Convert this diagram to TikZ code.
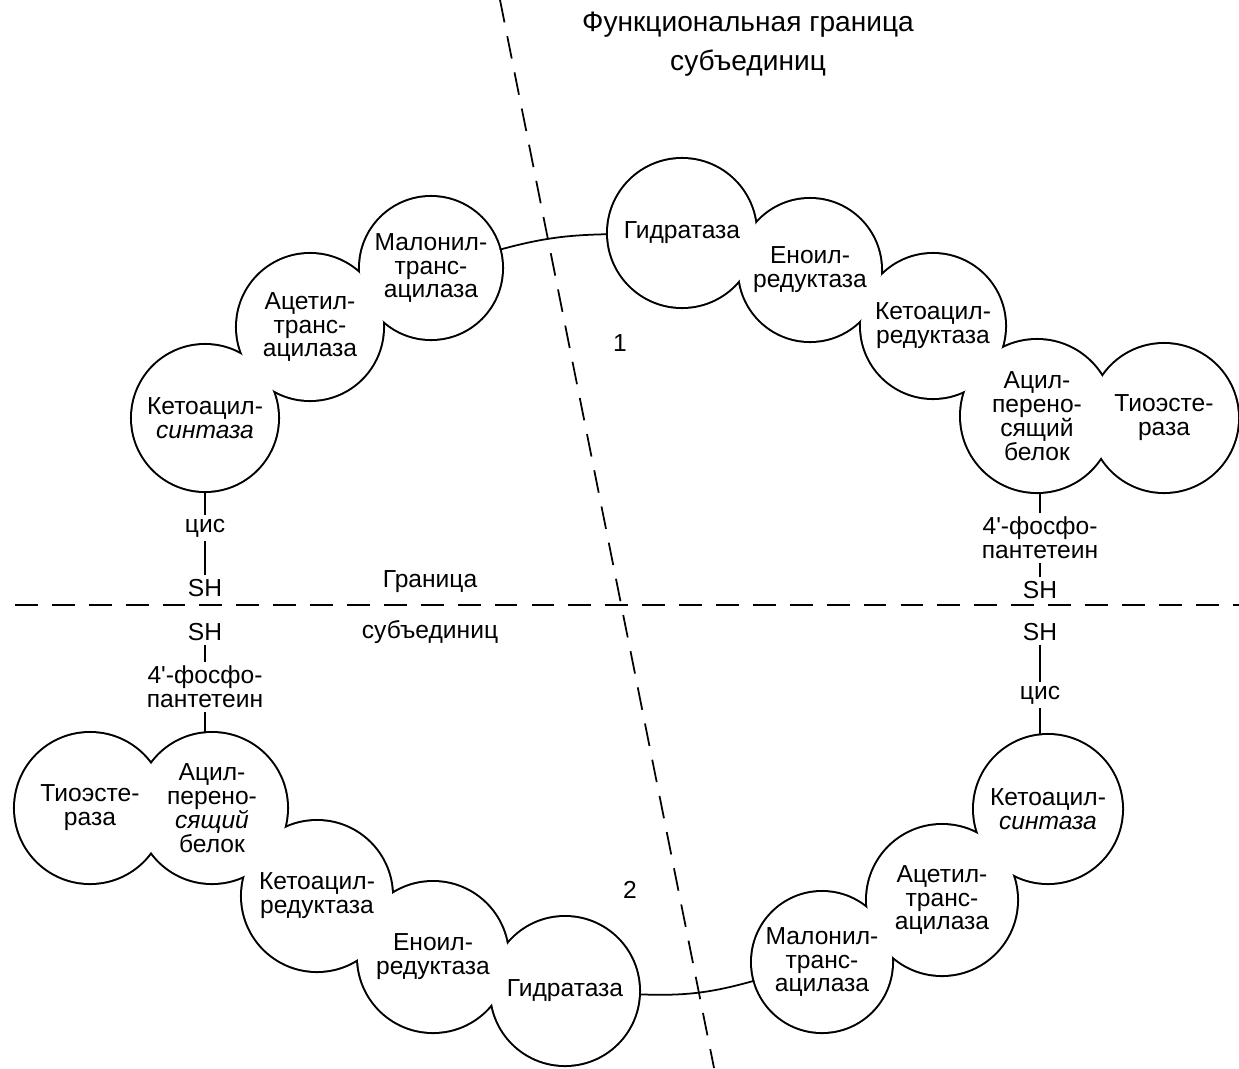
\documentclass[tikz,border=0pt]{standalone}
\usepackage{fontspec}
\setmainfont{Liberation Sans}
\usetikzlibrary{backgrounds}
\begin{document}
\begin{tikzpicture}[x=0.02cm,y=-0.02cm,
  txt/.style={font=\fontsize{14}{13.6}\selectfont, align=center},
  lbl/.style={txt, inner sep=2pt},
  enz/.style={txt, circle, inner sep=0pt, minimum size=#1*0.04cm},
  conn/.style={line width=1pt},
  outl/.style={line width=2.3pt},
  bnd/.style={line width=1pt, dash pattern=on 13pt off 8pt}]
\useasboundingbox (0,0) rectangle (1239,1068);

% subunit 1, left part
\node[enz=73] (ks1) at (205,418) {Кетоацил-\\\textit{синтаза}};
\node[enz=73] (at1) at (310,327) {Ацетил-\\транс-\\ацилаза};
\node[enz=71] (mt1) at (431,268) {Малонил-\\транс-\\ацилаза};
% subunit 1, right part
\node[enz=74] (gd1) at (682,233) {Гидратаза};
\node[enz=71] (er1) at (810,270) {Еноил-\\редуктаза};
\node[enz=72] (kr1) at (933,326) {Кетоацил-\\редуктаза};
\node[enz=76] (acp1) at (1037,416) {Ацил-\\перено-\\сящий\\белок};
\node[enz=74] (te1) at (1164,418) {Тиоэсте-\\раза};
% subunit 2, left part
\node[enz=75] (te2) at (90,808) {Тиоэсте-\\раза};
\node[enz=75] (acp2) at (212,808) {Ацил-\\перено-\\\textit{сящий}\\белок};
\node[enz=75] (kr2) at (317,896) {Кетоацил-\\редуктаза};
\node[enz=75] (er2) at (433,957) {Еноил-\\редуктаза};
\node[enz=74] (gd2) at (565,991) {Гидратаза};
% subunit 2, right part
\node[enz=74] (ks2) at (1048,809) {Кетоацил-\\\textit{синтаза}};
\node[enz=75] (at2) at (942,900) {Ацетил-\\транс-\\ацилаза};
\node[enz=70] (mt2) at (822,962) {Малонил-\\транс-\\ацилаза};

\begin{pgfonlayer}{background}
  \foreach \nm/\rad in {ks1/73,at1/73,mt1/71,gd1/74,er1/71,kr1/72,acp1/76,te1/74,
                        te2/75,acp2/75,kr2/75,er2/75,gd2/74,ks2/74,at2/75,mt2/70}
    \draw[outl] (\nm.center) circle[radius=\rad*0.02cm];
  \foreach \nm/\rad in {ks1/73,at1/73,mt1/71,gd1/74,er1/71,kr1/72,acp1/76,te1/74,
                        te2/75,acp2/75,kr2/75,er2/75,gd2/74,ks2/74,at2/75,mt2/70}
    \fill[white] (\nm.center) circle[radius=\rad*0.02cm];
\end{pgfonlayer}

% links between the halves
\draw[conn] (mt1) to[bend left=7] (gd1);
\draw[conn] (gd2) to[bend right=9] (mt2);

% stems, left
\node[lbl] (cis1) at (205,528) {цис};
\node[lbl] (sh1a) at (205,588) {SH};
\node[lbl] (sh2a) at (205,632) {SH};
\node[lbl] (pp2) at (205,687) {4\textquotesingle-фосфо-\\пантетеин};
\draw[conn] (cis1 |- ks1.south) -- (cis1);
\draw[conn] (cis1) -- (sh1a);
\draw[conn] (sh2a) -- (pp2);
\draw[conn] (pp2) -- (pp2 |- acp2.north);

% stems, right
\node[lbl] (pp1) at (1040,538) {4\textquotesingle-фосфо-\\пантетеин};
\node[lbl] (sh1b) at (1040,590) {SH};
\node[lbl] (sh2b) at (1040,632) {SH};
\node[lbl] (cis2) at (1040,695) {цис};
\draw[conn] (pp1 |- acp1.south) -- (pp1);
\draw[conn] (pp1) -- (sh1b);
\draw[conn] (sh2b) -- (cis2);
\draw[conn] (cis2) -- (cis2 |- ks2.north);

% boundaries
\coordinate (vtop) at (500,0);
\coordinate (vbot) at (714,1068);
\coordinate (hl) at (15,605);
\coordinate (hr) at (1239,605);
\draw[bnd] (vtop) -- (vbot);
\draw[bnd] (hl) -- (hr);

\node[lbl] (gr1) at (430,582) {Граница};
\node[lbl] (gr2) at (430,632) {субъединиц};
\node[lbl] (n1) at (620,343) {1};
\node[lbl] (n2) at (630,890) {2};
\node[font=\fontsize{16}{22.5}\selectfont, align=center] (title) at (748,44) {Функциональная граница\\субъединиц};
\end{tikzpicture}
\end{document}
